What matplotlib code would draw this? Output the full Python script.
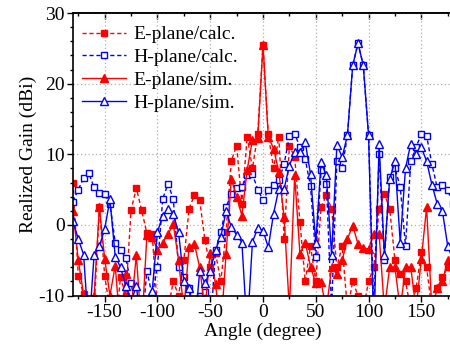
import matplotlib
matplotlib.use("Agg")
import matplotlib.pyplot as plt
from matplotlib.ticker import MultipleLocator

angles = list(range(-180, 181, 5))

e_calc = [5.9, -7.3, -9.8, -15, -12, 2.5, -7.2, -12, -15, -7.4,
          -10, 2.1, 5.2, 2.1, -1.2, -1.3, -12, -15, -12, -8,
          -10, -5, 2.3, 4.2, 3.5, -2.2, -6, -4, -8, -1,
          9.1, 11.2, 3, 12.5, 8, 12.8, 25.5, 12.8, 8, 12.5,
          -2, 11.2, 9.6, 0.4, -8, -3, -8, 2.5, 4.2, 2.3,
          -6, -3, -12, -8, -10, -12, -8, -6, 2.3, 4.4,
          2.3, -5, -7, -8, -12, -9, -3.9, -6, -12, -9,
          -7.4, -6, -8]

h_calc = [3.3, 5.0, 6.6, 7.3, 5.3, 4.5, 4.4, 3.0, -2.5, -3.5,
          -4.7, -8.3, -12, -15, -6.5, -10, -6, 3.7, 5.8, 3.7,
          -6, -7.4, -8.9, -12, -10, -9.5, -15, -3.6, -1, 2.5,
          4.4, 5.2, 5.3, 7.0, 7.2, 5.0, 3.5, 4.9, 5.7, 6.3,
          8.6, 12.6, 12.9, 11, 9.3, 5.5, -4.6, 7.7, 5.8, -12,
          9, 8, 12.7, 22.6, 25.7, 22.6, 12.7, -12, 10, -5,
          6.8, 8, 5.4, -3, 9, 11, 12.9, 12.6, 8.6, 5.3,
          5.6, 4.9, 3]

e_sim = [2, -5, -9.8, -15, -10, 2.5, -4.8, -10, -5.8, -15,
         -7, -12, -4.3, -15, -1.5, -1.7, -3.5, -2.5, -1.3, 0.1,
         -5, -12, -3.1, -2.7, -6, -12, -4, -8.4, -15, -4.1,
         6.5, 4, 1.3, 7.8, 12, 12.3, 25.5, 12.5, 10.8, 7.5,
         1.1, -12, 7, -4.1, -2.5, -5.9, -8.3, -8.1, -12, -6,
         -7, -5, -2, -0.1, -2.7, -3.3, -3.4, -1.3, -1.3, -12,
         -6, -6, -12, -6, -6, -12, -4.8, 2.5, -12, -9,
         -8, -5, -5]

h_sim = [0.5, -2, -4.2, -15, -4.2, -3, -0.6, 3.6, -4.5, -6,
         -8.6, -11, -8.6, -15, -11, -9.4, -1, 1.3, 2.2, 1.5,
         -1, -8, -9, -15, -6.6, -8.3, -6.5, -3.5, -1.7, 1.9,
         -0.3, -1.4, -2.5, -15, -2.4, -0.5, -0.8, -3.2, 1.6, 5.1,
         5.1, 8.4, 10.3, 10.3, 11.7, 7.2, -2.5, 8.9, 7, -4.3,
         11.3, 9.6, 12.7, 22.6, 25.7, 22.6, 12.7, -15, 11.5, -4.3,
         6.5, 9, -2.5, 8, 11.5, 10, 11, 9, 5.7, 3,
         1.9, -3, -5]

labels = ["E-plane/calc.", "H-plane/calc.", "E-plane/sim.", "H-plane/sim."]

plt.rcParams['font.family'] = ['Liberation Serif', 'DejaVu Serif']
plt.rcParams['font.size'] = 14
plt.rcParams['axes.unicode_minus'] = False

fig = plt.figure(figsize=(4.5, 3.47), dpi=100)
ax = fig.add_axes([73/450, 51.5/347, 380/450, 282.5/347])

ax.plot(angles, e_calc, color='#ff0000', ls=(0, (3, 2)), lw=1.0,
        marker='s', ms=4.4, mfc='#ff0000', mec='#ff0000', label=labels[0])
ax.plot(angles, h_calc, color='#0000ff', ls=(0, (3, 2)), lw=1.0,
        marker='s', ms=4.4, mfc='white', mec='#0000ff', mew=1.0, label=labels[1])
ax.plot(angles, e_sim, color='#ff0000', ls='-', lw=1.0,
        marker='^', ms=6.3, mfc='#ff0000', mec='#ff0000', label=labels[2])
ax.plot(angles, h_sim, color='#0000ff', ls='-', lw=1.0,
        marker='^', ms=6.3, mfc='white', mec='#0000ff', mew=1.0, label=labels[3])

ax.set_xlim(-180, 180)
ax.set_ylim(-10, 30)
ax.xaxis.set_major_locator(MultipleLocator(50))
ax.xaxis.set_minor_locator(MultipleLocator(25))
ax.yaxis.set_major_locator(MultipleLocator(10))
ax.yaxis.set_minor_locator(MultipleLocator(2))
ax.grid(True, which='major', ls=(0, (1, 2)), color='#b0b0b0', lw=0.9)
ax.set_axisbelow(True)

ax.tick_params(which='both', direction='out', top=False, right=False, labelsize=14, pad=2)
ax.tick_params(which='major', length=4, width=1)
ax.tick_params(which='minor', length=2.5, width=1)

sec = ax.secondary_xaxis('top')
sec.xaxis.set_major_locator(MultipleLocator(50))
sec.xaxis.set_minor_locator(MultipleLocator(25))
sec.tick_params(which='both', direction='in', labeltop=False)
sec.tick_params(which='major', length=4, width=1)
sec.tick_params(which='minor', length=2.5, width=1)
sec.spines['top'].set_linewidth(1.2)

for s in ax.spines.values():
    s.set_linewidth(1.2)

ax.set_xlabel("Angle (degree)", fontsize=14, labelpad=1)
ax.set_ylabel("Realized Gain (dBi)", fontsize=14, labelpad=1)

leg = ax.legend(loc='upper left', bbox_to_anchor=(0.023, 0.955), frameon=False,
                borderaxespad=0, borderpad=0, handlelength=2.3, handletextpad=0.35,
                labelspacing=0.27, fontsize=14)

fig.savefig("out.png", dpi=100)
